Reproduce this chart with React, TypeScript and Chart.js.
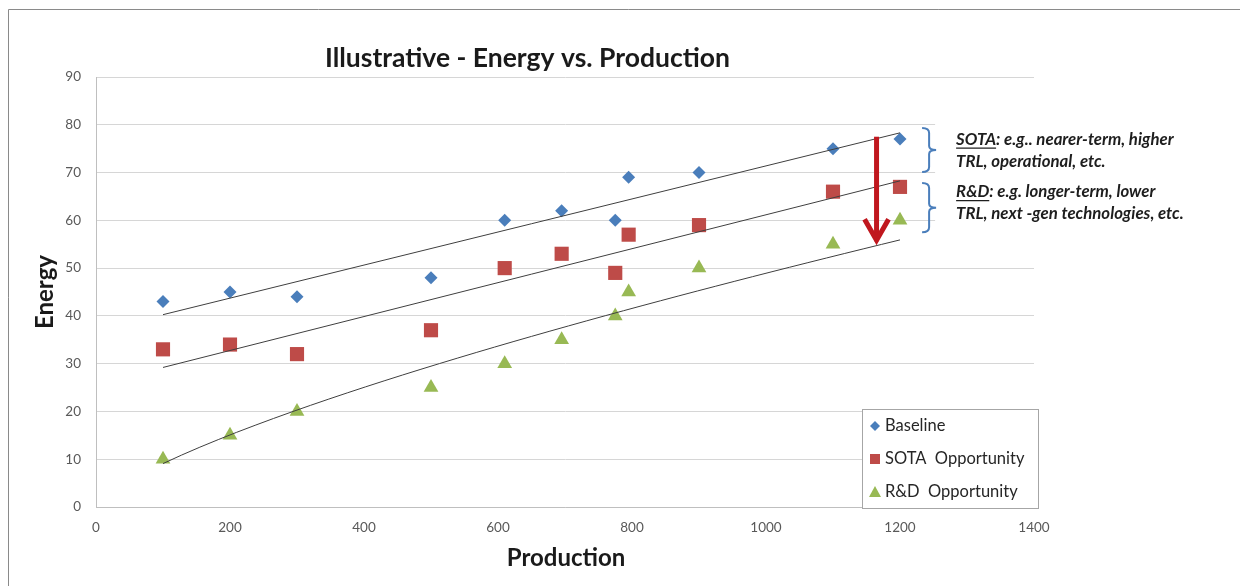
import React, { useEffect, useRef } from "react";
import { Chart, registerables } from "chart.js";

Chart.register(...registerables);

// ---- data ----
const PRODUCTION = [100, 200, 300, 500, 610, 695, 775, 795, 900, 1100, 1200];
const BASELINE = [43, 45, 44, 48, 60, 62, 60, 69, 70, 75, 77];
const SOTA = [33, 34, 32, 37, 50, 53, 49, 57, 59, 66, 67];
const RND = [10, 15, 20, 25, 30, 35, 40, 45, 50, 55, 60];
const SERIES_LABELS = ["Baseline", "SOTA  Opportunity", "R&D  Opportunity"];
const X_MIN = 0, X_MAX = 1400, X_STEP = 200;
const Y_MIN = 0, Y_MAX = 90, Y_STEP = 10;
const TITLE = "Illustrative - Energy vs. Production";
const X_TITLE = "Production";
const Y_TITLE = "Energy";
// annotation (data units)
const ARROW_X = 1165;
const ARROW_FROM = 77.5;
const ARROW_TO = 55;
const BRACE_X = 1233;
const BRACE_RANGES = [[79.3, 70.1], [67.8, 57.5]];
const NOTES = [
  { key: "SOTA", rest: ": e.g.. nearer-term, higher", line2: "TRL, operational, etc." },
  { key: "R&D", rest: ": e.g. longer-term, lower", line2: "TRL, next -gen technologies, etc." },
];

const BLUE = "#4a7ebb";
const RED = "#be4b48";
const GREEN = "#98b954";
const FONT = "Lato, 'Open Sans', sans-serif";

function linearFit(xs: number[], ys: number[]) {
  const n = xs.length;
  const mx = xs.reduce((a, b) => a + b, 0) / n;
  const my = ys.reduce((a, b) => a + b, 0) / n;
  let sxy = 0, sxx = 0;
  for (let i = 0; i < n; i++) { sxy += (xs[i] - mx) * (ys[i] - my); sxx += (xs[i] - mx) ** 2; }
  const b = sxy / sxx;
  return (x: number) => my + b * (x - mx);
}
function powerFit(xs: number[], ys: number[]) {
  const f = linearFit(xs.map(Math.log), ys.map(Math.log));
  return (x: number) => Math.exp(f(Math.log(x)));
}
function trendPoints(f: (x: number) => number, lo: number, hi: number, n: number) {
  const pts: { x: number; y: number }[] = [];
  for (let i = 0; i <= n; i++) { const x = lo + ((hi - lo) * i) / n; pts.push({ x, y: f(x) }); }
  return pts;
}

const xLo = Math.min(...PRODUCTION), xHi = Math.max(...PRODUCTION);
const baseTrend = trendPoints(linearFit(PRODUCTION, BASELINE), xLo, xHi, 1);
const sotaTrend = trendPoints(linearFit(PRODUCTION, SOTA), xLo, xHi, 1);
const rndTrend = trendPoints(powerFit(PRODUCTION, RND), xLo, xHi, 40);

const toPts = (ys: number[]) => PRODUCTION.map((x, i) => ({ x, y: ys[i] }));

function drawMarker(ctx: CanvasRenderingContext2D, kind: string, x: number, y: number, r: number, color: string) {
  ctx.save();
  ctx.fillStyle = color;
  ctx.beginPath();
  if (kind === "diamond") {
    ctx.moveTo(x, y - r); ctx.lineTo(x + r, y); ctx.lineTo(x, y + r); ctx.lineTo(x - r, y);
  } else if (kind === "square") {
    ctx.rect(x - r, y - r, 2 * r, 2 * r);
  } else {
    ctx.moveTo(x, y - r); ctx.lineTo(x + r, y + r * 0.85); ctx.lineTo(x - r, y + r * 0.85);
  }
  ctx.closePath();
  ctx.fill();
  ctx.restore();
}

const annotationPlugin = {
  id: "annotations",
  afterDatasetsDraw(chart: any) {
    const { ctx, scales } = chart;
    const xs = scales.x, ys = scales.y;
    const ax = xs.getPixelForValue(ARROW_X);
    const a1 = ys.getPixelForValue(ARROW_FROM);
    const a2 = ys.getPixelForValue(ARROW_TO);
    ctx.save();
    ctx.strokeStyle = "#c0171e";
    ctx.lineWidth = 5;
    ctx.lineCap = "butt";
    ctx.beginPath();
    ctx.moveTo(ax, a1); ctx.lineTo(ax, a2 - 3);
    ctx.stroke();
    ctx.lineJoin = "miter";
    ctx.beginPath();
    ctx.moveTo(ax - 12, a2 - 25); ctx.lineTo(ax, a2 - 4); ctx.lineTo(ax + 12, a2 - 25);
    ctx.stroke();
    ctx.restore();
  },
  afterDraw(chart: any) {
    const { ctx, scales, chartArea, width, height } = chart;
    const xs = scales.x, ys = scales.y;
    ctx.save();
    // outer frame (left & top)
    ctx.strokeStyle = "#8a8a8a";
    ctx.lineWidth = 1;
    ctx.beginPath();
    ctx.moveTo(0.5, height); ctx.lineTo(0.5, 1.5); ctx.lineTo(width, 1.5);
    ctx.stroke();

    // note background
    const bx = xs.getPixelForValue(BRACE_X);
    const top0 = ys.getPixelForValue(BRACE_RANGES[0][0]);
    const bot1 = ys.getPixelForValue(BRACE_RANGES[1][1]);
    ctx.fillStyle = "#ffffff";
    ctx.fillRect(bx + 13, top0 - 8, width - bx, bot1 - top0 + 12);

    // braces
    ctx.strokeStyle = BLUE;
    ctx.lineWidth = 2;
    BRACE_RANGES.forEach(([hi, lo]) => {
      const y1 = ys.getPixelForValue(hi), y2 = ys.getPixelForValue(lo);
      const m = (y1 + y2) / 2;
      const w = 7;
      ctx.beginPath();
      ctx.moveTo(bx, y1);
      ctx.quadraticCurveTo(bx + w, y1, bx + w, y1 + 5);
      ctx.lineTo(bx + w, m - 4);
      ctx.quadraticCurveTo(bx + w, m, bx + w + 7, m);
      ctx.moveTo(bx + w, m + 4);
      ctx.quadraticCurveTo(bx + w, m, bx + w + 7, m);
      ctx.moveTo(bx + w, m + 4);
      ctx.lineTo(bx + w, y2 - 5);
      ctx.quadraticCurveTo(bx + w, y2, bx, y2);
      ctx.stroke();
    });

    // notes
    ctx.fillStyle = "#1e1e1e";
    ctx.strokeStyle = "#1e1e1e";
    ctx.font = `italic bold 16.8px ${FONT}`;
    ctx.textBaseline = "middle";
    ctx.textAlign = "left";
    NOTES.forEach((n, i) => {
      const [hi, lo] = BRACE_RANGES[i];
      const y1 = ys.getPixelForValue(hi), y2 = ys.getPixelForValue(lo);
      const m = (y1 + y2) / 2 - (i === 0 ? 0 : 5);
      const tx = bx + 34;
      const l1 = m - 11, l2 = m + 11;
      ctx.fillText(n.key, tx, l1);
      const kw = ctx.measureText(n.key).width;
      ctx.lineWidth = 1.3;
      ctx.beginPath();
      ctx.moveTo(tx, l1 + 9); ctx.lineTo(tx + kw, l1 + 9);
      ctx.stroke();
      ctx.fillText(n.rest, tx + kw, l1);
      ctx.fillText(n.line2, tx, l2);
    });

    // title
    ctx.fillStyle = "#1a1a1a";
    ctx.textAlign = "center";
    ctx.font = `bold 26.5px ${FONT}`;
    ctx.fillText(TITLE, chartArea.left + (chartArea.right - chartArea.left) * 0.46, 50);
    ctx.font = `bold 24px ${FONT}`;
    ctx.fillText(X_TITLE, (chartArea.left + chartArea.right) / 2 + 1, 550);
    ctx.save();
    ctx.translate(37, (chartArea.top + chartArea.bottom) / 2);
    ctx.rotate(-Math.PI / 2);
    ctx.fillText(Y_TITLE, 0, 0);
    ctx.restore();

    // legend
    const lw = 176, lh = 99;
    const lx = chartArea.right + 4 - lw, ly = chartArea.bottom + 1 - lh;
    ctx.fillStyle = "#ffffff";
    ctx.fillRect(lx, ly, lw, lh);
    ctx.strokeStyle = "#a6a6a6";
    ctx.lineWidth = 1;
    ctx.strokeRect(lx + 0.5, ly + 0.5, lw, lh);
    const kinds = ["diamond", "square", "triangle"];
    const colors = [BLUE, RED, GREEN];
    const rs = [5, 5, 6];
    ctx.font = `16.5px ${FONT}`;
    ctx.textAlign = "left";
    ctx.textBaseline = "middle";
    SERIES_LABELS.forEach((lab, i) => {
      const yy = ly + 17 + i * 33;
      drawMarker(ctx, kinds[i], lx + 13, yy, rs[i], colors[i]);
      ctx.fillStyle = "#262626";
      ctx.fillText(lab, lx + 23, yy);
    });
    ctx.restore();
  },
};

export default function App() {
  const ref = useRef<HTMLCanvasElement | null>(null);
  useEffect(() => {
    if (!ref.current) return;
    const trendStyle = {
      type: "line" as const,
      borderColor: "#3f3f3f",
      borderWidth: 1,
      pointRadius: 0,
      fill: false,
      showLine: true,
      tension: 0,
    };
    const chart = new Chart(ref.current, {
      type: "scatter",
      data: {
        datasets: [
          { ...trendStyle, label: "t1", data: baseTrend },
          { ...trendStyle, label: "t2", data: sotaTrend },
          { ...trendStyle, label: "t3", data: rndTrend },
          { label: SERIES_LABELS[0], data: toPts(BASELINE), pointStyle: "rectRot", pointRadius: 6.5, backgroundColor: BLUE, borderColor: BLUE, borderWidth: 0 },
          { label: SERIES_LABELS[1], data: toPts(SOTA), pointStyle: "rect", pointRadius: 10, backgroundColor: RED, borderColor: RED, borderWidth: 0 },
          { label: SERIES_LABELS[2], data: toPts(RND), pointStyle: "triangle", pointRadius: 8.5, backgroundColor: GREEN, borderColor: GREEN, borderWidth: 0 },
        ] as any,
      },
      options: {
        animation: false,
        responsive: false,
        layout: { padding: { top: 69, right: 214, left: 0, bottom: 0 } },
        plugins: { legend: { display: false }, title: { display: false }, tooltip: { enabled: false } },
        scales: {
          x: {
            type: "linear",
            min: X_MIN,
            max: X_MAX,
            afterFit: (s: any) => { s.height = 79; },
            ticks: { stepSize: X_STEP, color: "#595959", font: { family: FONT, size: 13.5 }, padding: 13, maxRotation: 0, callback: (v: any) => String(v) },
            grid: { drawOnChartArea: false, drawTicks: false },
            border: { display: true, color: "#bfbfbf", width: 1 },
          },
          y: {
            type: "linear",
            min: Y_MIN,
            max: Y_MAX,
            afterFit: (s: any) => { s.width = 88; },
            ticks: { stepSize: Y_STEP, color: "#595959", font: { family: FONT, size: 13.5 }, padding: 15, callback: (v: any) => String(v) },
            grid: { color: "#d6d6d6", drawTicks: false },
            border: { display: true, color: "#bfbfbf", width: 1 },
          },
        },
      },
      plugins: [annotationPlugin],
    });
    return () => chart.destroy();
  }, []);
  return <canvas ref={ref} width={1240} height={578} style={{ display: "block" }} />;
}
